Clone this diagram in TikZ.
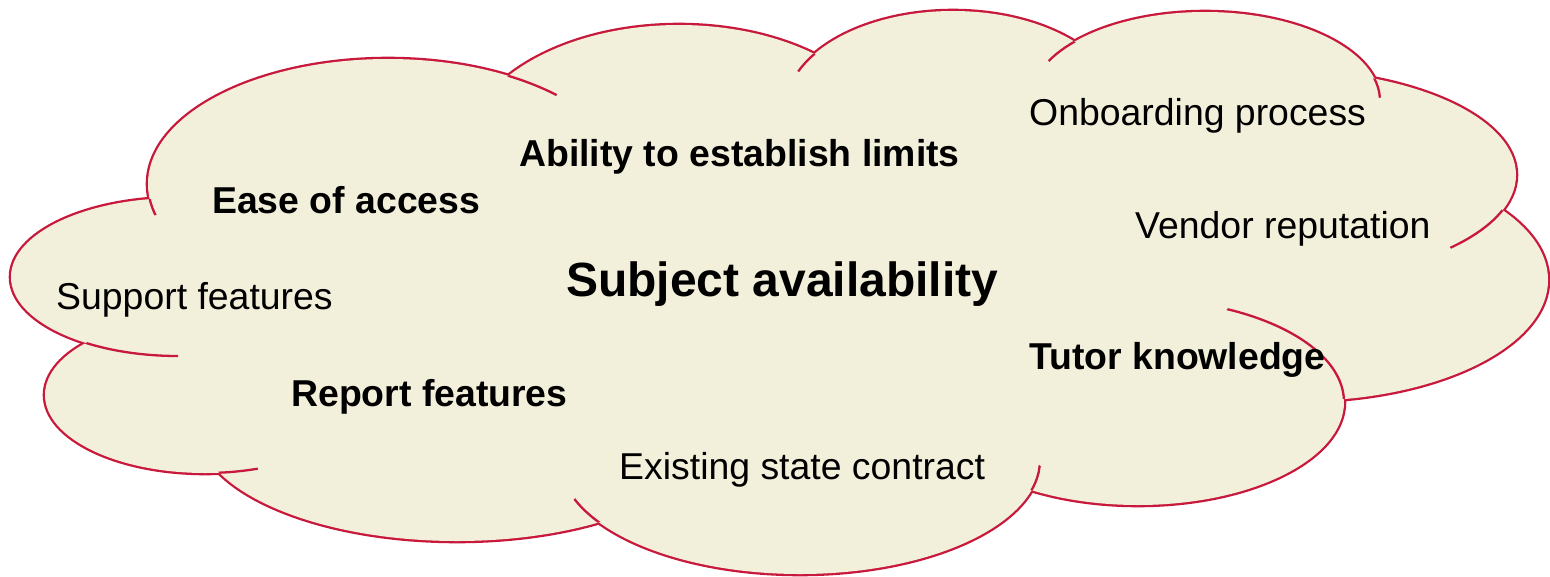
\documentclass[tikz,border=0pt]{standalone}
\usepackage{fontspec}
\setmainfont{Liberation Sans}
\definecolor{cloudfill}{RGB}{242,240,219}
\definecolor{cloudline}{RGB}{200,24,60}
\tikzset{
  lbl/.style={anchor=base west, inner sep=0pt, font=\fontsize{37.4}{44}\selectfont},
  blbl/.style={anchor=base west, inner sep=0pt, font=\fontsize{37.4}{44}\selectfont\bfseries},
  tlbl/.style={anchor=base west, inner sep=0pt, font=\fontsize{48}{56}\selectfont\bfseries},
  outerline/.style={draw=cloudline, line width=4.6pt},
  tailline/.style={draw=cloudline, line width=2.3pt},
}
\begin{document}
\begin{tikzpicture}[x=1pt,y=-1pt]
\useasboundingbox (0,0) rectangle (1550,576);
\def\lobes{178/277/167/79, 388/184/240/125, 679/155/215/130, 953/110/168/99, 1205/101/175/89, 1281/175/235/105, 1300/280/248/121, 1138/402/206/103, 800/460/240/114, 457/426/260/115, 205/395/160/78}
% outer outline (inner half later covered by fill)
\foreach \cx/\cy/\rx/\ry in \lobes {
  \path[outerline] (\cx,\cy) ellipse [x radius=\rx pt, y radius=\ry pt];
}
% fill
\foreach \cx/\cy/\rx/\ry in \lobes {
  \fill[cloudfill] (\cx,\cy) ellipse [x radius=\rx pt, y radius=\ry pt];
}
\fill[cloudfill] (780,290) ellipse [x radius=560pt, y radius=170pt];
% inner tails
\foreach \ax/\ay/\arx/\ary/\bx/\by/\brx/\bry/\jx/\jy/\r in {
  388/184/240/125/178/277/167/79/150/197/19,
  388/184/240/125/679/155/215/130/512/75/49,
  953/110/168/99/679/155/215/130/810/53/22,
  1205/101/175/89/953/110/168/99/1074/40/33,
  1205/101/175/89/1281/175/235/105/1377/81/17,
  1281/175/235/105/1300/280/248/121/1502/210/64,
  1138/402/206/103/1300/280/248/121/1345/402/150,
  800/460/240/114/1138/402/206/103/1029/489/26,
  800/460/240/114/457/426/260/115/598/522/33,
  205/395/160/78/457/426/260/115/220/473/38,
  178/277/167/79/205/395/160/78/85/343/94} {
  \begin{scope}
    \clip (\bx,\by) ellipse [x radius=\brx pt, y radius=\bry pt];
    \clip (\jx,\jy) circle [radius=\r pt];
    \path[tailline] (\ax,\ay) ellipse [x radius=\arx pt, y radius=\ary pt];
  \end{scope}
}
% labels
\node[lbl]  (onb)  at (1029,125) {Onboarding process};
\node[blbl] (abl)  at (519,166) {Ability to establish limits};
\node[blbl] (ease) at (212,213) {Ease of access};
\node[lbl]  (vend) at (1135,238) {Vendor reputation};
\node[tlbl] (subj) at (566,296) {Subject availability};
\node[lbl]  (supp) at (56,309) {Support features};
\node[blbl] (tut)  at (1029,369) {Tutor knowledge};
\node[blbl] (rep)  at (291,406) {Report features};
\node[lbl]  (exst) at (619,479) {Existing state contract};
\end{tikzpicture}
\end{document}
